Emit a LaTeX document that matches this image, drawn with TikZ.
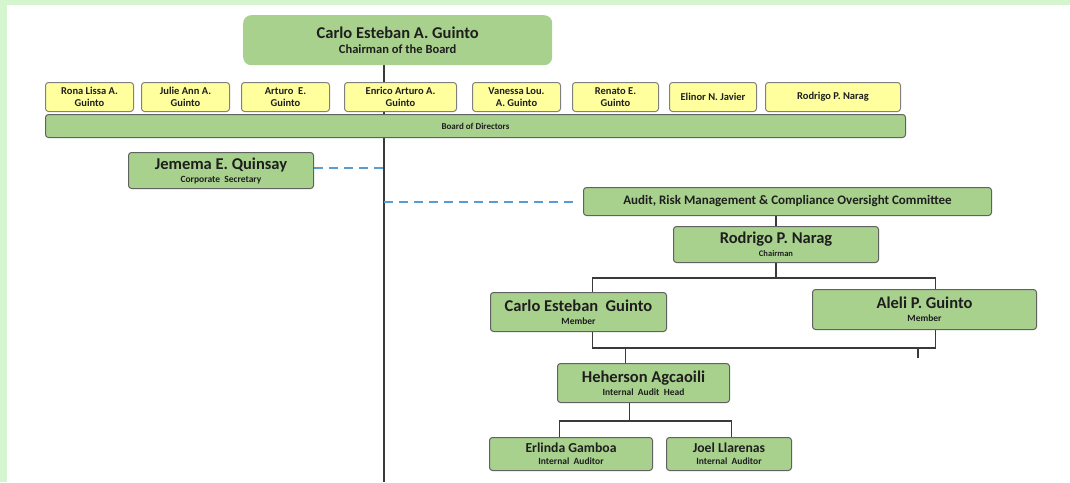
\documentclass[tikz,border=0pt]{standalone}
\usepackage{fontspec}
\setmainfont{Carlito}
\usetikzlibrary{backgrounds}
\definecolor{framegreen}{HTML}{D5F5CF}
\definecolor{boxgreen}{HTML}{A9D18E}
\definecolor{boxyellow}{HTML}{FFFF9E}
\definecolor{linegray}{HTML}{3A3A3A}
\definecolor{dashblue}{HTML}{5B9BD5}
\definecolor{txt}{HTML}{1E1E1E}
\newcommand{\rbox}[7]{\node[#1, anchor=north west, minimum width={(#5-#3)*1pt}, minimum height={(#6-#4)*1pt}] (#2) at (#3pt,-#4pt) {#7};}
\newcommand{\bigname}[1]{{\fontsize{16.5}{17}\selectfont\bfseries #1}}
\newcommand{\midname}[1]{{\fontsize{13.7}{14}\selectfont\bfseries #1}}
\newcommand{\subname}[1]{{\fontsize{9.5}{10}\selectfont\bfseries #1}}
\newcommand{\ylname}[1]{{\fontsize{10.5}{12}\selectfont\bfseries #1}}
\begin{document}
\begin{tikzpicture}[x=1pt,y=1pt,
  chairbox/.style={fill=boxgreen, rounded corners=8pt, inner sep=0pt, align=center, text=txt},
  gbox/.style={fill=boxgreen, draw=linegray!80, line width=1pt, rounded corners=3pt, inner sep=0pt, align=center, text=txt},
  ybox/.style={fill=boxyellow, draw=gray, line width=1pt, rounded corners=3pt, inner sep=0pt, align=center, text=txt},
  conn/.style={draw=linegray, line width=1.5pt},
  mainline/.style={draw=linegray, line width=2pt},
  dashconn/.style={draw=dashblue, line width=2pt, dash pattern=on 9pt off 6pt}]
\useasboundingbox (0,0) rectangle (1070,-482);
% chairman
\rbox{chairbox}{chair}{243}{15}{552}{65}{\bigname{Carlo Esteban A. Guinto}\\[3pt]{\fontsize{12.5}{13}\selectfont\bfseries Chairman of the Board}}
% board members
\rbox{ybox}{d1}{45}{82}{133}{111}{\ylname{Rona Lissa A.}\\\ylname{Guinto}}
\rbox{ybox}{d2}{141}{82}{229}{111}{\ylname{Julie Ann A.}\\\ylname{Guinto}}
\rbox{ybox}{d3}{241}{82}{329}{111}{\ylname{Arturo\ \ E.}\\\ylname{Guinto}}
\rbox{ybox}{d4}{344}{82}{456}{111}{\ylname{Enrico Arturo A.}\\\ylname{Guinto}}
\rbox{ybox}{d5}{472}{82}{560}{111}{\ylname{Vanessa Lou.}\\\ylname{A. Guinto}}
\rbox{ybox}{d6}{572}{82}{658}{111}{\ylname{Renato E.}\\\ylname{Guinto}}
\rbox{ybox}{d7}{669}{82}{756}{111}{\ylname{Elinor N. Javier}}
\rbox{ybox}{d8}{765}{82}{900}{111}{\ylname{Rodrigo P. Narag}}
\rbox{gbox}{board}{45}{114}{905}{137}{{\fontsize{9}{10}\selectfont\bfseries Board of Directors}}
% secretary
\rbox{gbox}{jem}{128}{152}{313}{188}{\bigname{Jemema E. Quinsay}\\[1pt]\subname{Corporate\ \ Secretary}}
% committee
\rbox{gbox}{audit}{583}{187}{991}{215}{{\fontsize{13}{14}\selectfont\bfseries Audit, Risk Management \& Compliance Oversight Committee}}
\rbox{gbox}{rod}{673}{226}{878}{262}{\bigname{Rodrigo P. Narag}\\[1pt]{\fontsize{8.5}{9}\selectfont\bfseries Chairman}}
\rbox{gbox}{carlo}{490}{292}{666}{331}{\bigname{Carlo Esteban\ \ Guinto}\\[1pt]\subname{Member}}
\rbox{gbox}{aleli}{812}{289}{1036}{329}{\bigname{Aleli P. Guinto}\\[1pt]\subname{Member}}
\rbox{gbox}{heh}{557}{363}{729}{402}{\bigname{Heherson Agcaoili}\\[1pt]\subname{Internal\ \ Audit\ \ Head}}
\rbox{gbox}{erl}{489}{437}{652}{470}{\midname{Erlinda Gamboa}\\[0pt]\subname{Internal\ \ Auditor}}
\rbox{gbox}{joel}{666}{437}{791}{470}{\midname{Joel Llarenas}\\[0pt]\subname{Internal\ \ Auditor}}
\coordinate (bot) at (384,-482);
\coordinate (stub) at (918,-358);
\begin{scope}[on background layer]
  \fill[framegreen] (0,0) rectangle (1070,-5);
  \fill[framegreen] (0,0) rectangle (7,-482);
  \draw[mainline] (chair.south -| bot) -- (bot);
  \draw[dashconn] ([yshift=3pt]jem.east) -- ([yshift=3pt]jem.east -| bot);
  \draw[dashconn] (audit.west -| bot) -- ([xshift=-10pt]audit.west);
  \draw[conn] (rod.north) -- (rod.north |- audit.south);
  \draw[conn] (rod.south) -- ++(0,-15) coordinate (j1);
  \draw[conn] ([xshift=14pt]carlo.north) |- (j1) -| ([xshift=11pt]aleli.north);
  \draw[conn] ([xshift=14pt]carlo.south) -- ++(0,-16) -| ([xshift=11pt]aleli.south);
  \draw[conn] ([xshift=-18pt]heh.north) -- ++(0,16);
  \draw[conn] (stub) -- ++(0,11);
  \draw[conn] ([xshift=-14pt]heh.south) -- ++(0,-19);
  \draw[conn] ([xshift=-11.5pt]erl.north) -- ++(0,16) -| ([xshift=2.5pt]joel.north);
\end{scope}
\end{tikzpicture}
\end{document}
